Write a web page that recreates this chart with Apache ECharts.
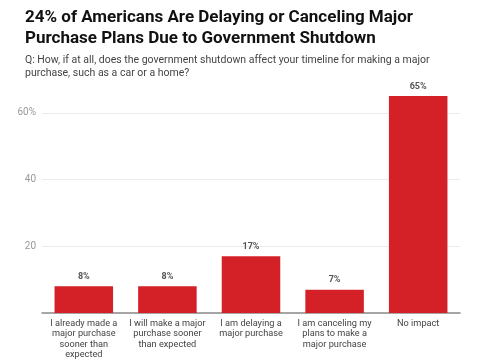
<!DOCTYPE html>
<html><head><meta charset="utf-8">
<script src="https://cdn.jsdelivr.net/npm/echarts@6/dist/echarts.min.js"></script>
<style>html,body{margin:0;padding:0;background:#fff}#c{width:485px;height:360px}</style>
</head><body><div id="c"></div>
<script>
const categories = [
  "I already made a\nmajor purchase\nsooner than\nexpected",
  "I will make a major\npurchase sooner\nthan expected",
  "I am delaying a\nmajor purchase",
  "I am canceling my\nplans to make a\nmajor purchase",
  "No impact"
];
const values = [8, 8, 17, 7, 65];
const yTicks = [0, 20, 40, 60, 80];

const chart = echarts.init(document.getElementById('c'));
chart.setOption({
  animation: false,
  title: [{
    text: "24% of Americans Are Delaying or Canceling Major\nPurchase Plans Due to Government Shutdown",
    left: 20, top: 2,
    textStyle: {fontFamily: 'Roboto', fontWeight: 'bold', fontSize: 17, lineHeight: 21, color: '#111'}
  }, {
    text: "Q: How, if at all, does the government shutdown affect your timeline for making a major\npurchase, such as a car or a home?",
    left: 20, top: 49,
    textStyle: {fontFamily: 'Roboto', fontWeight: 'normal', fontSize: 10.5, lineHeight: 13, color: '#444'}
  }],
  grid: {left: 42, right: 25, top: 46, bottom: 46},
  xAxis: {
    type: 'category', data: categories,
    axisLine: {lineStyle: {color: '#888', width: 1.5}},
    axisTick: {show: false},
    axisLabel: {interval: 0, fontFamily: 'Roboto', fontSize: 9.2, lineHeight: 10.5, color: '#444', margin: 5}
  },
  yAxis: {
    type: 'value', min: yTicks[0], max: yTicks[yTicks.length-1], interval: 20,
    axisLine: {show: false}, axisTick: {show: false},
    splitLine: {lineStyle: {color: ['#ffffff', '#ebebeb', '#ebebeb', '#ebebeb', 'rgba(0,0,0,0)'], width: 1}},
    axisLabel: {
      fontFamily: 'Roboto', fontSize: 10, color: '#999', margin: 6,
      formatter: v => (v === 0 || v === 80) ? '' : (v === 60 ? v + '%' : String(v))
    }
  },
  series: [{
    type: 'bar', data: values, barCategoryGap: '30%',
    itemStyle: {color: '#d42027'},
    label: {show: true, position: 'top', formatter: '{c}%', fontFamily: 'Roboto', fontSize: 9, fontWeight: 'bold', color: '#555', distance: 5}
  }]
});
</script></body></html>
